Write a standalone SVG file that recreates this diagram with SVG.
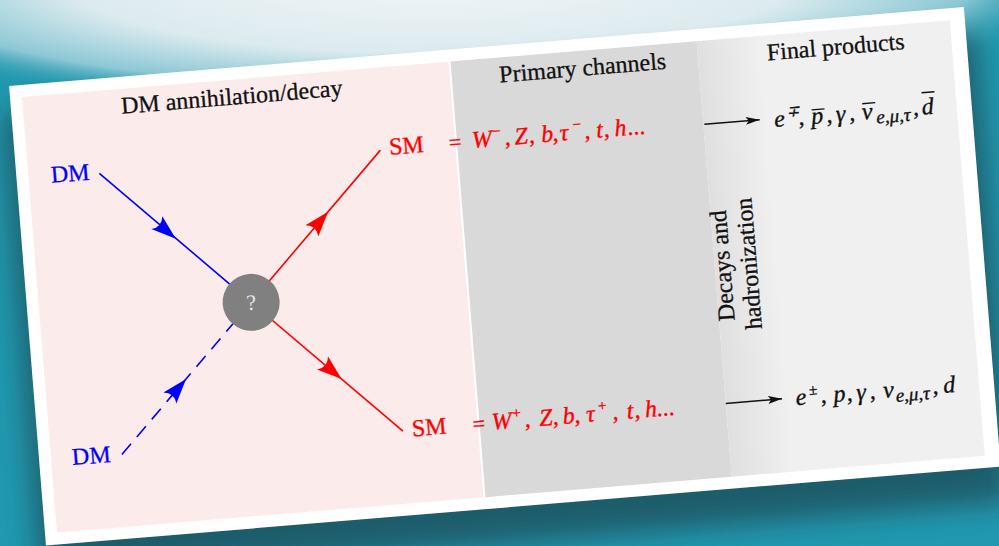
<svg xmlns="http://www.w3.org/2000/svg" xmlns:xlink="http://www.w3.org/1999/xlink" width="999" height="546" viewBox="0 0 999 546">
<defs>
<radialGradient id="sky" cx="430" cy="-20" r="660" gradientUnits="userSpaceOnUse" gradientTransform="translate(430,-20) scale(1,0.2) translate(-430,20)">
<stop offset="0" stop-color="#f2f5f7"/>
<stop offset="0.55" stop-color="#dcebef"/>
<stop offset="0.82" stop-color="#8cc8d5"/>
<stop offset="1" stop-color="#2a9cb1" stop-opacity="0"/>
</radialGradient>
<linearGradient id="fade" x1="675" y1="0" x2="740" y2="0" gradientUnits="userSpaceOnUse">
<stop offset="0" stop-color="#dfdfdf"/>
<stop offset="1" stop-color="#f0f0f0"/>
</linearGradient>
<filter id="blur" x="-10%" y="-20%" width="120%" height="140%"><feGaussianBlur stdDeviation="14"/></filter>
<path id="ah" d="M0,0 L-25,-8.5 Q-18,0 -25,8.5 Z"/>
<marker id="arr" viewBox="0 0 14 8" refX="14" refY="4" markerWidth="14" markerHeight="8" markerUnits="userSpaceOnUse" orient="auto">
<path d="M0,0 L14,4 L0,8 L3,4 Z" fill="#111"/>
</marker>
<style>
.t{font-family:"Liberation Serif","Times New Roman",serif;font-size:24px;fill:#111;stroke-width:0.3}
.it{font-family:"Liberation Serif","Times New Roman",serif;font-size:24px;font-style:italic;stroke-width:0.35}
.blue{fill:#0000ff;stroke:#0000ff}
.red{fill:#ff0000;stroke:#ff0000}
.k{fill:#111;stroke:#111}
.sup{font-size:15px}
.sub{font-size:19px}
.eq{font-size:22px;font-style:normal}
.ln{stroke-width:1.6;fill:none}
.bar{stroke:#111;stroke-width:1.4}
</style>
</defs>
<rect x="0" y="0" width="999" height="546" fill="#2198ae"/>
<rect x="0" y="0" width="999" height="160" fill="url(#sky)"/>
<g transform="matrix(0.9966,-0.0825,0.080,0.9968,22,97)">
<rect x="-20" y="15" width="975" height="470" fill="#1d4a55" opacity="0.75" filter="url(#blur)"/>
<rect id="card" x="-12" y="-12" width="958" height="461" fill="#ffffff"/>
<g id="panel-dm"><rect x="0" y="0" width="428" height="437" fill="#fcebeb"/>
<text class="t k" x="98" y="25">DM annihilation/decay</text></g>
<g id="panel-primary"><rect x="430" y="0" width="247" height="437" fill="#d9d9d9"/>
<text class="t k" x="477.5" y="25">Primary channels</text></g>
<g id="panel-final"><rect x="677" y="0" width="254" height="437" fill="url(#fade)"/>
<text class="t k" x="746" y="25">Final products</text></g>
<g id="decays"><text class="t k" text-anchor="middle" transform="translate(692.5,226) rotate(-90)">Decays and</text>
<text class="t k" text-anchor="middle" transform="translate(719,226) rotate(-90)">hadronization</text></g>
<g id="connectors">
<line class="ln" x1="71" y1="82.5" x2="212" y2="223.5" stroke="#0000ff"/>
<line class="ln" x1="71" y1="364.5" x2="212" y2="223.5" stroke="#0000ff" stroke-dasharray="14 9"/>
<line class="ln" x1="212" y1="223.5" x2="353" y2="82.5" stroke="#ff0000"/>
<line class="ln" x1="212" y1="223.5" x2="353" y2="364.5" stroke="#ff0000"/>
<use xlink:href="#ah" transform="translate(142,154) rotate(45)" fill="#0000ff"/>
<use xlink:href="#ah" transform="translate(141,294.5) rotate(-45)" fill="#0000ff"/>
<use xlink:href="#ah" transform="translate(296,139.5) rotate(-45)" fill="#ff0000"/>
<use xlink:href="#ah" transform="translate(296,307.5) rotate(45)" fill="#ff0000"/>
<line x1="678" y1="83.5" x2="733.5" y2="83.5" stroke="#111" stroke-width="1.5" marker-end="url(#arr)"/>
<line x1="677" y1="363.5" x2="733.5" y2="363.5" stroke="#111" stroke-width="1.5" marker-end="url(#arr)"/>
</g>
<g id="vertex"><circle cx="212" cy="223.5" r="28.5" fill="#808080"/>
<text x="212" y="231" text-anchor="middle" font-family="Liberation Serif, serif" font-size="22" fill="#e6e6e6">?</text></g>
<g id="dm-in"><text class="t blue" x="22.5" y="88">DM</text></g>
<g id="dm-in2"><text class="t blue" x="21" y="371">DM</text></g>
<g id="sm-out"><text class="t red" x="362" y="88">SM</text>
<text class="it red" y="88"><tspan class="eq" x="422">=</tspan><tspan x="445">W</tspan><tspan class="sup" x="465" dy="-10">−</tspan><tspan x="477.5" dy="10">,</tspan><tspan x="487.7">Z</tspan><tspan x="502">,</tspan><tspan x="514.5">b</tspan><tspan x="525.5">,</tspan><tspan x="533">τ</tspan><tspan class="sup" x="545.5" dy="-10">−</tspan><tspan x="557.5" dy="10">,</tspan><tspan x="569.7">t</tspan><tspan x="577">,</tspan><tspan x="587.9">h</tspan><tspan x="601.2">...</tspan></text></g>
<g id="sm-out2"><text class="t red" x="362" y="370.5">SM</text>
<text class="it red" y="370.5"><tspan class="eq" x="423">=</tspan><tspan x="442">W</tspan><tspan class="sup" x="462.5" dy="-10">+</tspan><tspan x="475" dy="10">,</tspan><tspan x="489.8">Z</tspan><tspan x="503">,</tspan><tspan x="513.3">b</tspan><tspan x="525">,</tspan><tspan x="537">τ</tspan><tspan class="sup" x="548.5" dy="-10">+</tspan><tspan x="563" dy="10">,</tspan><tspan x="577.5">t</tspan><tspan x="585">,</tspan><tspan x="596">h</tspan><tspan x="608">...</tspan></text></g>
<g id="products-top"><text class="it k" y="92"><tspan x="748">e</tspan><tspan class="sup" x="761" dy="-9">∓</tspan><tspan x="772" dy="9">,</tspan><tspan x="785">p</tspan><tspan x="800">,</tspan><tspan x="810">γ</tspan><tspan x="823">,</tspan><tspan x="836">ν</tspan><tspan class="sub" x="850" dy="5">e,μ,τ</tspan><tspan x="887" dy="-5">,</tspan><tspan x="896">d</tspan></text>
<line class="bar" x1="786" y1="78" x2="799" y2="78"/><line class="bar" x1="837" y1="76" x2="850" y2="76"/><line class="bar" x1="897" y1="70" x2="910" y2="70"/></g>
<g id="products-bottom"><text class="it k" y="371"><tspan x="747">e</tspan><tspan class="sup" x="761" dy="-9">±</tspan><tspan x="772" dy="9">,</tspan><tspan x="785">p</tspan><tspan x="798">,</tspan><tspan x="808">γ</tspan><tspan x="821">,</tspan><tspan x="835">ν</tspan><tspan class="sub" x="847" dy="5">e,μ,τ</tspan><tspan x="884" dy="-5">,</tspan><tspan x="895">d</tspan></text></g>
</g>
</svg>
